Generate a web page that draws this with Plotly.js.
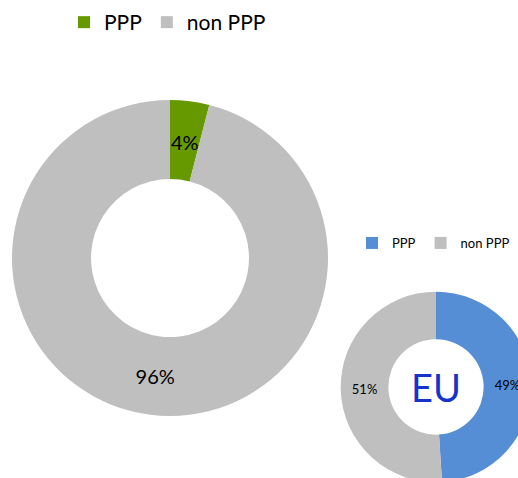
<!DOCTYPE html>
<html>
<head>
<meta charset="utf-8">
<script src="https://cdn.plot.ly/plotly-3.0.1.min.js"></script>
<style>
html,body{margin:0;padding:0;overflow:hidden;background:#fff;width:518px;height:478px;}
#chart{width:620px;height:580px;}
</style>
</head>
<body>
<div id="chart"></div>
<script>
const labels = ["PPP", "non PPP"];
const worldValues = [4, 96];
const euValues = [49, 51];
const euTitle = "EU";
const worldColors = ["#669900", "#bfbfbf"];
const euColors = ["#558ed5", "#bfbfbf"];

const W = 620, H = 580;
const font = "Lato, 'Open Sans', sans-serif";

// big donut geometry (pixels)
const bigDom = {x0: 12, x1: 328, y0: 100, y1: 416};
const hole = 0.5;

// The narrow PPP slice label is placed at its slice centroid (from the data)
const worldSum = worldValues.reduce((a, b) => a + b, 0);
const theta = 2 * Math.PI * (worldValues[0] / 2) / worldSum;
const bigCx = (bigDom.x0 + bigDom.x1) / 2, bigCy = (bigDom.y0 + bigDom.y1) / 2;
const bigR = (bigDom.x1 - bigDom.x0) / 2;
const midR = bigR * (1 + hole) / 2;
const pppLabelX = (bigCx + midR * Math.sin(theta)) / W;
const pppLabelY = 1 - (bigCy - midR * Math.cos(theta) + 2) / H;
const pppText = Math.round(100 * worldValues[0] / worldSum) + "%";

const traces = [
  {
    type: "pie",
    labels: labels,
    values: worldValues,
    hole: hole,
    sort: false,
    direction: "clockwise",
    rotation: 0,
    marker: {colors: worldColors, line: {width: 0}},
    textinfo: "percent",
    texttemplate: "%{percent:.0%}",
    textposition: ["none", "inside"],
    insidetextorientation: "horizontal",
    textfont: {family: font, size: 20, color: "#000"},
    domain: {x: [bigDom.x0 / W, bigDom.x1 / W], y: [(H - bigDom.y1) / H, (H - bigDom.y0) / H]},
    legend: "legend",
    legendgroup: "world",
    hoverinfo: "label+percent"
  },
  {
    type: "pie",
    labels: labels,
    values: euValues,
    hole: hole,
    sort: false,
    direction: "clockwise",
    rotation: 0,
    marker: {colors: euColors, line: {width: 0}},
    textinfo: "percent",
    texttemplate: "%{percent:.0%}",
    textposition: "inside",
    insidetextorientation: "horizontal",
    textfont: {family: font, size: 13, color: "#000"},
    title: {text: euTitle, position: "middle center", font: {family: font, size: 38, color: "#1433cc"}},
    domain: {x: [340.7 / W, 531.3 / W], y: [(H - 482.3) / H, (H - 291.7) / H]},
    legend: "legend2",
    legendgroup: "eu",
    hoverinfo: "label+percent"
  }
];

const layout = {
  width: W,
  height: H,
  margin: {l: 0, r: 0, t: 0, b: 0},
  paper_bgcolor: "#fff",
  showlegend: true,
  legend: {
    orientation: "h",
    x: 64 / W, xanchor: "left",
    y: 1 - 2 / H, yanchor: "top",
    font: {family: font, size: 21, color: "#000"},
    traceorder: "normal",
    itemwidth: 30
  },
  legend2: {
    orientation: "h",
    x: 352 / W, xanchor: "left",
    y: 1 - 228 / H, yanchor: "top",
    font: {family: font, size: 13, color: "#000"},
    traceorder: "normal",
    itemwidth: 30
  },
  annotations: [
    {
      xref: "paper", yref: "paper",
      x: pppLabelX, y: pppLabelY,
      xanchor: "center", yanchor: "middle",
      text: pppText, showarrow: false,
      font: {family: font, size: 20, color: "#000"}
    }
  ]
};

Plotly.newPlot("chart", traces, layout, {displayModeBar: false, staticPlot: true});
</script>
</body>
</html>
